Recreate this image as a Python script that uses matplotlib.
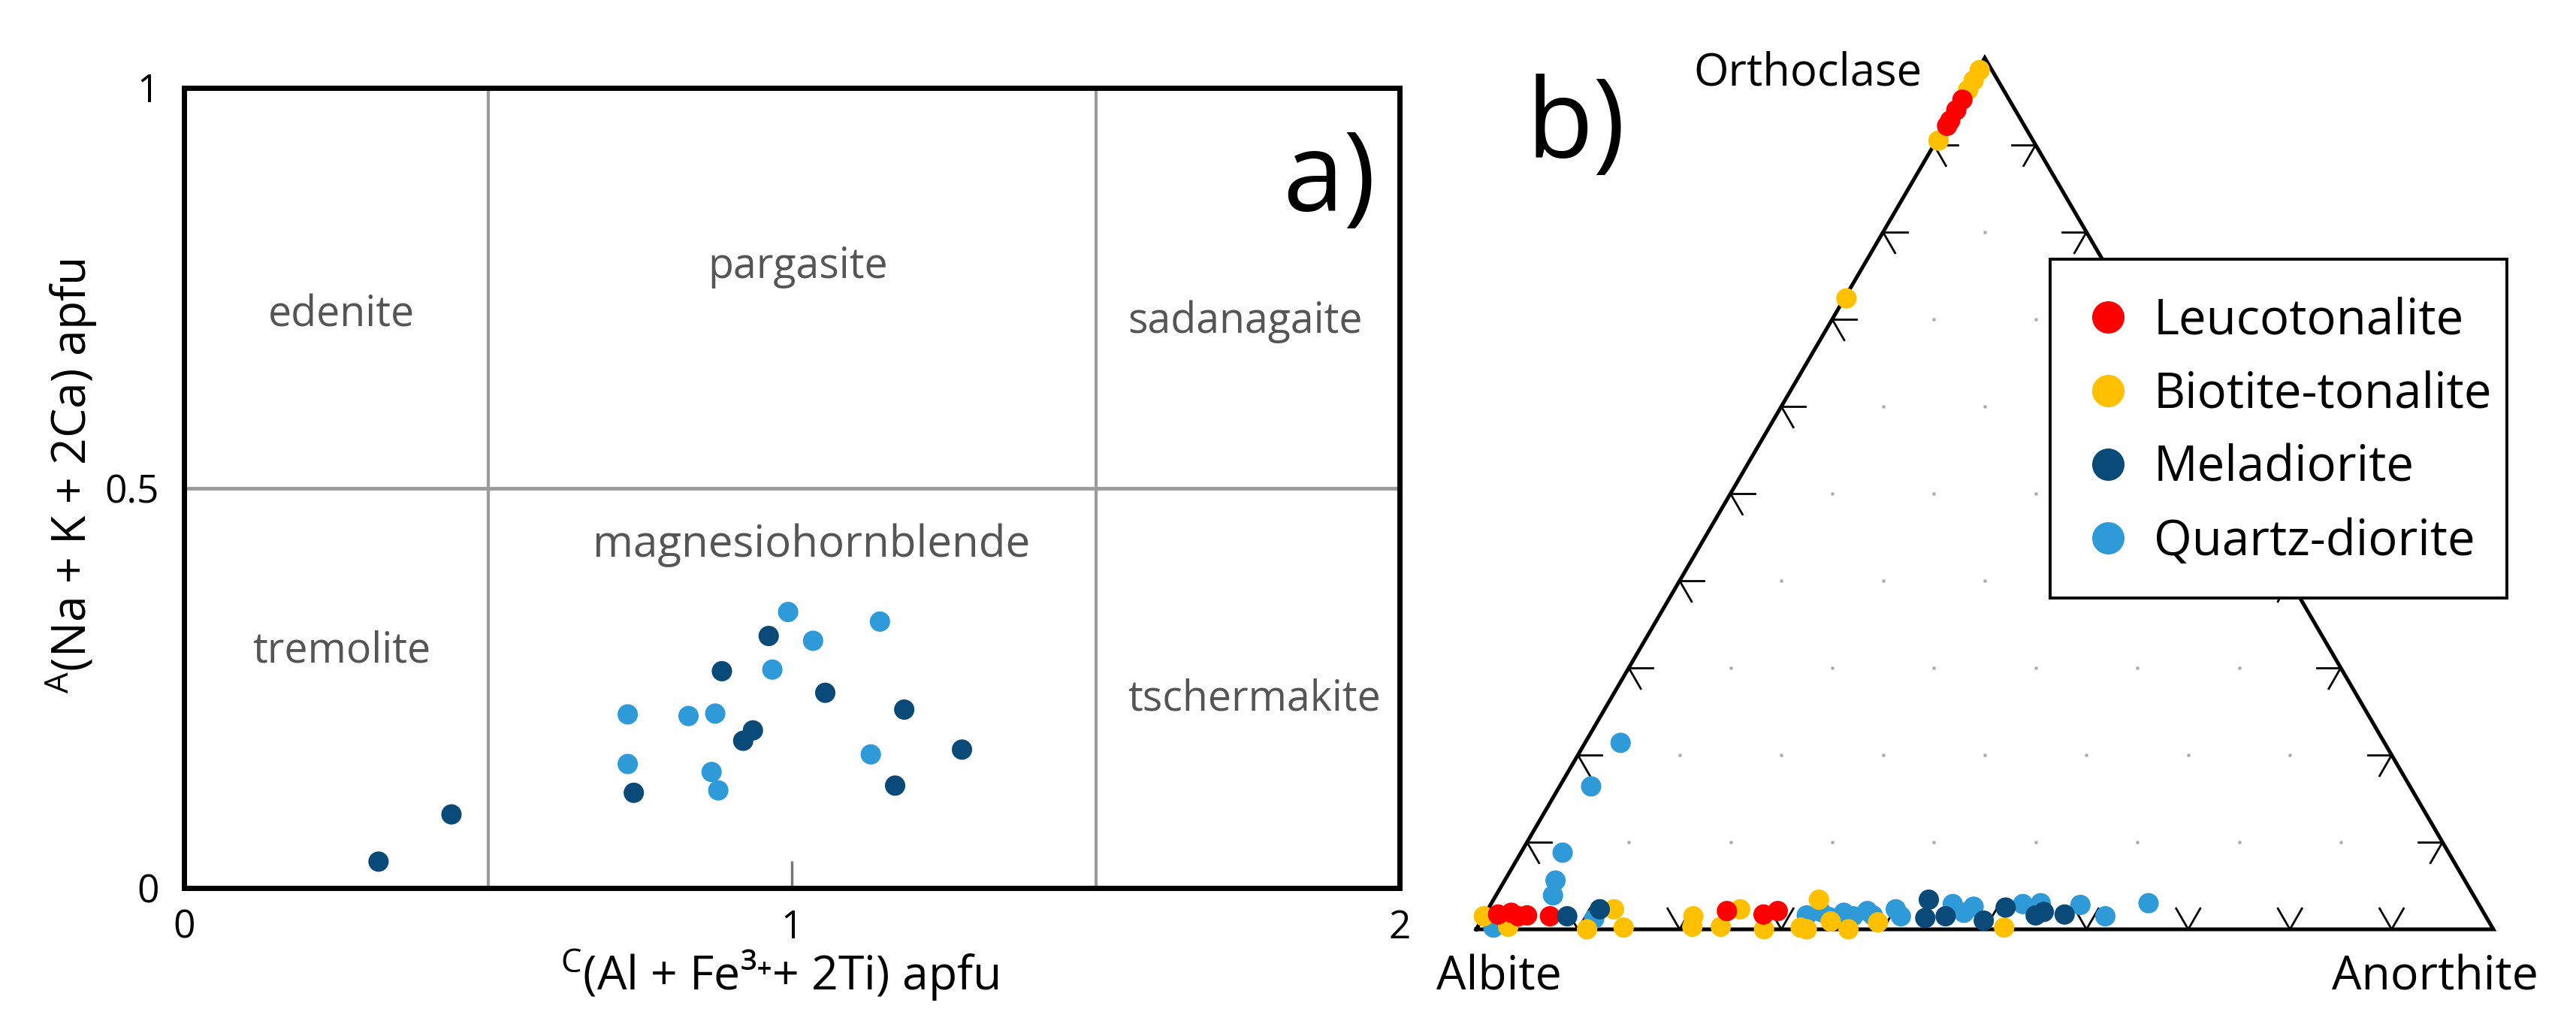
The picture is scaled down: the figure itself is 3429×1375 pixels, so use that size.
import numpy as np
import matplotlib
matplotlib.use('Agg')
import matplotlib.pyplot as plt
from matplotlib.lines import Line2D
from matplotlib.patches import Rectangle

plt.rcParams['font.family'] = ['Open Sans', 'DejaVu Sans']
plt.rcParams['mathtext.fontset'] = 'custom'
plt.rcParams['mathtext.rm'] = 'Open Sans'
plt.rcParams['mathtext.it'] = 'Open Sans'
plt.rcParams['mathtext.bf'] = 'Open Sans'

# ---------------- data: panel a (amphibole classification) ----------------
mela_x = [0.32, 0.44, 0.74, 0.885, 0.92, 0.936, 0.962, 1.055, 1.185, 1.17, 1.28]
mela_y = [0.033, 0.092, 0.119, 0.271, 0.184, 0.197, 0.315, 0.244, 0.223, 0.128, 0.173]
qd_x = [0.73, 0.73, 0.83, 0.874, 0.868, 0.879, 0.968, 0.994, 1.035, 1.145, 1.13]
qd_y = [0.217, 0.155, 0.215, 0.218, 0.145, 0.122, 0.273, 0.345, 0.309, 0.333, 0.167]

region_names = ['edenite', 'pargasite', 'sadanagaite',
                'tremolite', 'magnesiohornblende', 'tschermakite']
region_x = [0.259, 1.010, 1.746, 0.259, 1.032, 1.761]
region_y = [0.702, 0.762, 0.694, 0.282, 0.414, 0.222]

xticks_a = [0, 1, 2]
xticklabels_a = ['0', '1', '2']
yticks_a = [0, 0.5, 1]
yticklabels_a = ['0', '0.5', '1']

# ---------------- data: panel b (feldspar ternary, An %, Or %) ----------------
leuco_an = [1.3, 2.5, 3.4, 4.2, 6.5, 23.6, 27.4, 28.6, 0.2, 0.2, 0.2, 0.2]
leuco_or = [1.7, 1.9, 1.5, 1.6, 1.5, 2.1, 1.7, 2.1, 95.2, 94.0, 92.8, 92.2]

biot_an = [0.0, 3.0, 10.9, 12.4, 14.4, 20.6, 21.1, 23.9, 24.8, 28.3, 31.8, 32.0,
           32.5, 34.4, 36.6, 39.1, 51.8, 0.2, 0.2, 0.2, 0.2, 0.2]
biot_or = [1.5, 0.3, 0.0, 2.3, 0.2, 1.5, 0.3, 0.3, 2.3, 0.0, 0.2, 3.4,
           0.0, 0.9, 0.0, 0.8, 0.2, 98.6, 97.4, 96.3, 90.5, 72.4]

melab_an = [8.2, 11.0, 42.8, 43.5, 45.4, 49.4, 50.8, 54.2, 54.8, 57.0]
melab_or = [1.5, 2.3, 3.4, 1.3, 1.5, 1.0, 2.5, 1.6, 2.0, 1.7]

qdb_an = [1.6, 11.0, 3.5, 3.1, 4.1, 5.0, 5.6,
          31.7, 32.9, 34.0, 35.2, 36.3, 37.4, 38.2,
          40.1, 41.0, 45.4, 47.0, 47.6, 52.3, 54.0, 58.0, 61.1, 64.6]
qdb_or = [0.2, 1.2, 21.4, 16.4, 8.8, 5.6, 3.9,
          1.6, 2.0, 1.4, 1.9, 1.5, 2.1, 1.6,
          2.3, 1.5, 2.9, 1.9, 2.6, 2.9, 3.0, 2.8, 1.5, 3.0]

group_names = ['Leucotonalite', 'Biotite-tonalite', 'Meladiorite', 'Quartz-diorite']
group_colors = ['#ff0000', '#ffc000', '#0a4a78', '#2e9bd8']
vertex_names = ['Orthoclase', 'Albite', 'Anorthite']

# ---------------- figure ----------------
W, H = 3429, 1375
fig = plt.figure(figsize=(W / 100, H / 100), dpi=100)


def fx(x):
    return x / W


def fy(y):
    return 1 - y / H


GREY = '#9b9b9b'
TXT = '#555555'

# ---- panel a ----
ax1 = fig.add_axes([fx(245), fy(1182), 1618 / W, 1065 / H])
ax1.set_xlim(0, 2)
ax1.set_ylim(0, 1)
for s in ax1.spines.values():
    s.set_linewidth(5)
    s.set_color('black')
ax1.axvline(0.5, color=GREY, lw=3, zorder=1)
ax1.axvline(1.5, color=GREY, lw=3, zorder=1)
ax1.axhline(0.5, color=GREY, lw=3.5, zorder=1)

ax1.scatter(mela_x, mela_y, s=380, color=group_colors[2], edgecolors='none', zorder=3)
ax1.scatter(qd_x, qd_y, s=380, color=group_colors[3], edgecolors='none', zorder=3)

region_sizes = [40, 40, 40, 40, 42, 40]
for n, x, y, fs in zip(region_names, region_x, region_y, region_sizes):
    ax1.text(x, y, n, ha='center', va='baseline', fontsize=fs, color=TXT)

ax1.set_xticks(xticks_a)
ax1.set_xticklabels(xticklabels_a)
ax1.set_yticks(yticks_a)
ax1.set_yticklabels(yticklabels_a)
ax1.tick_params(axis='x', direction='in', length=26, width=2.5, color='#777777',
                labelsize=37, pad=20)
ax1.tick_params(axis='y', length=0, labelsize=37, pad=24)

fig.text(fx(95), fy(634), r'$^{\mathrm{A}}$(Na + K + 2Ca) apfu', rotation=90,
         ha='center', va='center', fontsize=45)
fig.text(fx(1038), fy(1318), r'$^{\mathrm{C}}$(Al + Fe' + '\u00b3\u207a' + '+ 2Ti) apfu',
         ha='center', va='baseline', fontsize=45)

fig.text(fx(1707), fy(281), 'a)', ha='left', va='baseline', fontsize=105)

# ---- panel b ----
PXW, PXH = 1354, 1160
ax2 = fig.add_axes([fx(1965), fy(1237), PXW / W, PXH / H])
ax2.set_xlim(0, 1)
ax2.set_ylim(0, 1)
ax2.axis('off')


def tern(an, orr):
    an = np.asarray(an) / 100.0
    orr = np.asarray(orr) / 100.0
    return an + orr / 2.0, orr


# triangle
ax2.plot([0, 1, 0.5, 0], [0, 0, 1, 0], color='black', lw=3.6, clip_on=False,
         solid_joinstyle='miter', zorder=2)

# ticks
L = 32
c60, s60 = np.cos(np.radians(60)), np.sin(np.radians(60))
for k in range(1, 10):
    f = k / 10
    # left edge
    px, py = f / 2, f
    ax2.plot([px, px + L / PXW], [py, py], color='black', lw=2, clip_on=False, zorder=2)
    ax2.plot([px, px + L * c60 / PXW], [py, py - L * s60 / PXH], color='black', lw=2,
             clip_on=False, zorder=2)
    # right edge
    px, py = 1 - f / 2, f
    ax2.plot([px, px - L / PXW], [py, py], color='black', lw=2, clip_on=False, zorder=2)
    ax2.plot([px, px - L * c60 / PXW], [py, py - L * s60 / PXH], color='black', lw=2,
             clip_on=False, zorder=2)
    # bottom edge
    px, py = f, 0
    ax2.plot([px, px + L * c60 / PXW], [py, py + L * s60 / PXH], color='black', lw=2,
             clip_on=False, zorder=2)
    ax2.plot([px, px - L * c60 / PXW], [py, py + L * s60 / PXH], color='black', lw=2,
             clip_on=False, zorder=2)

# interior grid dots
gx, gy = [], []
for i in range(1, 9):
    for j in range(1, 10 - i):
        gx.append(j / 10 + i / 20)
        gy.append(i / 10)
ax2.plot(gx, gy, ls='none', marker='s', ms=2.5, color='#a8a8a8', mec='none', zorder=1)

groups_b = [(qdb_an, qdb_or, 3), (biot_an, biot_or, 1), (leuco_an, leuco_or, 0),
            (melab_an, melab_or, 2)]
for an, orr, ci in groups_b:
    X, Y = tern(an, orr)
    ax2.scatter(X, Y, s=380, color=group_colors[ci], edgecolors='none', zorder=4,
                clip_on=False)

fig.text(fx(2406), fy(114), vertex_names[0], ha='center', va='baseline', fontsize=43)
fig.text(fx(1995), fy(1318), vertex_names[1], ha='center', va='baseline', fontsize=45)
fig.text(fx(3241), fy(1318), vertex_names[2], ha='center', va='baseline', fontsize=45)
fig.text(fx(2031), fy(210), 'b)', ha='left', va='baseline', fontsize=105)

# legend frame (drawn separately for exact placement)
frame = Rectangle((fx(2729), fy(796)), (3337 - 2729) / W, (796 - 345) / H,
                  transform=fig.transFigure, facecolor='white', edgecolor='black',
                  linewidth=2.8, zorder=9)
fig.patches.append(frame)

handles = [Line2D([], [], ls='none', marker='o', ms=31, color=c, mec='none')
           for c in group_colors]
leg = fig.legend(handles, group_names, loc='upper left',
                 bbox_to_anchor=(fx(2729), fy(345)), bbox_transform=fig.transFigure,
                 fontsize=47, frameon=False, borderaxespad=0,
                 borderpad=0.76, labelspacing=0.49, handlelength=0.85,
                 handletextpad=0.5)
leg.set_zorder(10)

fig.savefig('out.png', dpi=100, facecolor='white')
